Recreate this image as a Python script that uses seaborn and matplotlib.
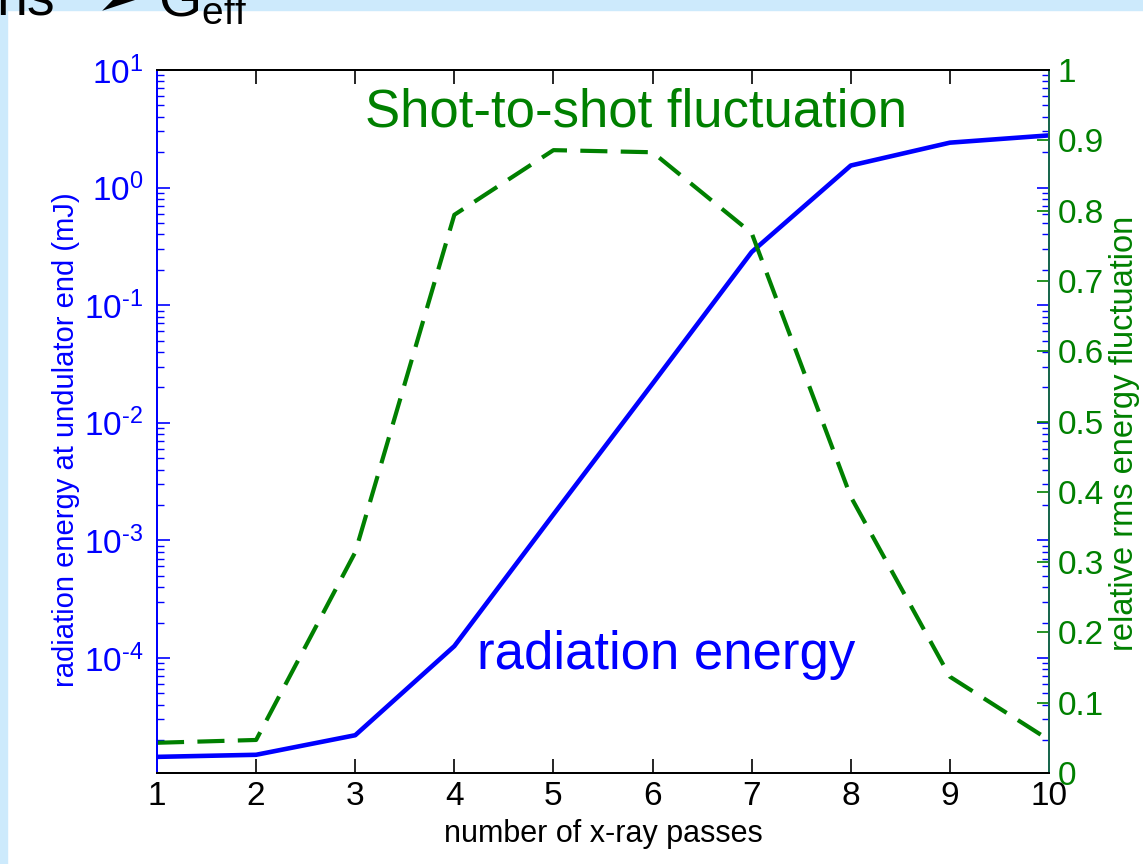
import matplotlib
matplotlib.use("Agg")
import matplotlib.pyplot as plt
import seaborn as sns
import pandas as pd
from matplotlib.ticker import LogLocator, NullFormatter, FixedLocator, FuncFormatter
from matplotlib.patches import Rectangle
import math

# ---- data ----
passes = [1, 2, 3, 4, 5, 6, 7, 8, 9, 10]
radiation_energy_mJ = [1.44e-5, 1.5e-5, 2.2e-5, 1.26e-4, 1.66e-3, 2.15e-2, 0.283, 1.54, 2.41, 2.78]
rms_fluctuation = [0.043, 0.047, 0.314, 0.794, 0.886, 0.883, 0.768, 0.393, 0.137, 0.047]
x_ticks = [1, 2, 3, 4, 5, 6, 7, 8, 9, 10]
right_ticks = [0, 0.1, 0.2, 0.3, 0.4, 0.5, 0.6, 0.7, 0.8, 0.9, 1]
right_tick_labels = ['0', '0.1', '0.2', '0.3', '0.4', '0.5', '0.6', '0.7', '0.8', '0.9', '1']

sns.set_style("ticks")
plt.rcParams['font.family'] = ['Liberation Sans', 'DejaVu Sans']
plt.rcParams['mathtext.fontset'] = 'custom'
plt.rcParams['mathtext.rm'] = 'Liberation Sans'
plt.rcParams['mathtext.it'] = 'Liberation Sans:italic'
plt.rcParams['mathtext.bf'] = 'Liberation Sans:bold'

BLUE = '#0000ff'
GREEN = '#008000'
W, H = 1143, 864

fig = plt.figure(figsize=(W / 100, H / 100), dpi=100)
fig.patch.set_facecolor('white')

# slide background strips and the cut-off slide heading
lb = '#cdeafc'
fig.patches.append(Rectangle((0, 0), 7 / W, 1, transform=fig.transFigure, color=lb, zorder=0))
fig.patches.append(Rectangle((0, 1 - 10 / H), 1, 10 / H, transform=fig.transFigure, color=lb, zorder=0))
ty = 1 - 16 / H
fig.text(-4 / W, ty, "ns", fontsize=40, va='baseline', ha='left', color='black')
fig.text(96 / W, ty, "\u27a2", fontsize=40, va='baseline', ha='left', color='black',
         family=['DejaVu Sans'])
fig.text(158 / W, ty, "G$_{\\mathrm{eff}}$", fontsize=40, va='baseline', ha='left', color='black')

ax1 = fig.add_axes([157 / W, (H - 773) / H, (1049 - 157) / W, (773 - 70) / H])
ax1.set_facecolor('white')
ax2 = ax1.twinx()

df = pd.DataFrame({'passes': passes, 'energy': radiation_energy_mJ, 'fluct': rms_fluctuation})

sns.lineplot(data=df, x='passes', y='energy', ax=ax1, color=BLUE, lw=3.3)
sns.lineplot(data=df, x='passes', y='fluct', ax=ax2, color=GREEN, lw=3.0,
             linestyle=(0, (6.5, 3.2)))

ax1.set_yscale('log')
ax1.set_ylim(1.05e-5, 10)
ax1.set_xlim(1, 10)
ax1.xaxis.set_major_locator(FixedLocator(x_ticks))
ax1.yaxis.set_major_locator(LogLocator(base=10, numticks=20))
ax1.yaxis.set_minor_locator(LogLocator(base=10, subs=[2, 3, 4, 5, 6, 7, 8, 9], numticks=50))
ax1.yaxis.set_minor_formatter(NullFormatter())


def log_fmt(v, pos):
    n = int(round(math.log10(v)))
    s = str(abs(n))
    if n < 0:
        s = '\u2010' + s
    return '$10^{' + s + '}$'


ax1.yaxis.set_major_formatter(FuncFormatter(log_fmt))

ax2.set_ylim(0, 1)
ax2.yaxis.set_major_locator(FixedLocator(right_ticks))
ax2.set_yticklabels(right_tick_labels)

ax1.tick_params(axis='x', which='both', direction='in', top=True, bottom=True,
                length=10, width=1.2, colors='black', labelsize=24, pad=6)
ax1.tick_params(axis='y', which='major', direction='in', left=True, right=True,
                length=9, width=1.2, colors=BLUE, labelsize=24, pad=10)
ax1.tick_params(axis='y', which='minor', direction='in', left=True, right=True,
                length=5, width=1.0, colors=BLUE)
ax2.tick_params(axis='y', which='major', direction='in', right=True, left=False,
                length=9, width=1.2, colors=GREEN, labelsize=24, pad=6)

for ax in (ax1, ax2):
    ax.spines['top'].set_color('black')
    ax.spines['bottom'].set_color('black')
    ax.spines['left'].set_color(BLUE)
    for s in ax.spines.values():
        s.set_linewidth(1.4)
        s.set_visible(True)
ax1.spines['right'].set_color(BLUE)
ax2.spines['right'].set_color('#1a6a4a')

ax1.set_xlabel('number of x-ray passes', fontsize=22, color='black')
ax1.xaxis.set_label_coords(0.5, -(834 - 773) / 703, transform=ax1.transAxes)
ax1.xaxis.label.set_va('center')
ax1.set_ylabel('radiation energy at undulator end (mJ)', fontsize=21, color=BLUE)
ax1.yaxis.set_label_coords(-(157 - 66) / 892, (773 - 440) / 703)
ax1.yaxis.label.set_va('center')
ax2.set_ylabel('relative rms energy fluctuation', fontsize=23.5, color=GREEN)
ax2.yaxis.set_label_coords(1 + (1125 - 1049) / 892, (773 - 433) / 703)
ax2.yaxis.label.set_va('center')

ax2.text(5.83, 0.939, 'Shot-to-shot fluctuation', fontsize=38, color=GREEN,
         ha='center', va='center')
ax2.text(6.14, 0.168, 'radiation energy', fontsize=38, color=BLUE,
         ha='center', va='center')

fig.savefig('out.png', dpi=100, facecolor=fig.get_facecolor())
